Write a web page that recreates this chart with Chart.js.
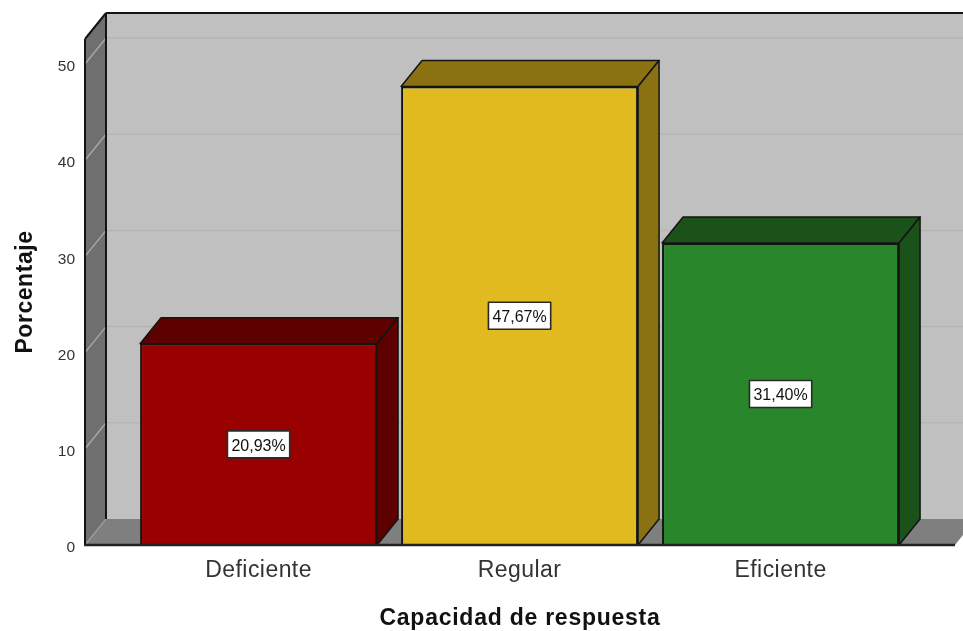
<!DOCTYPE html>
<html><head><meta charset="utf-8">
<style>html,body{margin:0;padding:0;background:#fff}#w{width:963px;height:631px;position:relative}</style>
<script src="https://cdn.jsdelivr.net/npm/chart.js@4/dist/chart.umd.min.js"></script>
</head><body><div id="w"><canvas id="c" width="963" height="631"></canvas></div>
<script>
const categories = ['Deficiente', 'Regular', 'Eficiente'];
const percentages = [20.93, 47.67, 31.40];
const frontColors = ['#990000', '#e0ba1e', '#2a862a'];
const sideColors = ['#5c0000', '#8a7212', '#1a5219'];
const yTicks = [0, 10, 20, 30, 40, 50];
const yTitle = 'Porcentaje';
const xTitle = 'Capacidad de respuesta';

const DX = 21, DY = 26;
const EDGE = '#141414';
function poly(ctx, pts, fill, stroke, lw) {
  ctx.beginPath();
  pts.forEach((p, i) => i ? ctx.lineTo(p[0], p[1]) : ctx.moveTo(p[0], p[1]));
  ctx.closePath();
  if (fill) { ctx.fillStyle = fill; ctx.fill(); }
  if (stroke) { ctx.strokeStyle = stroke; ctx.lineWidth = lw || 2; ctx.lineJoin = 'round'; ctx.stroke(); }
}
function line(ctx, a, b, color, lw) {
  ctx.beginPath(); ctx.moveTo(a[0], a[1]); ctx.lineTo(b[0], b[1]);
  ctx.strokeStyle = color; ctx.lineWidth = lw; ctx.stroke();
}
function spaced(scale, method, spacing) {
  const original = scale[method];
  scale[method] = function () {
    const ctx = this.ctx;
    ctx.letterSpacing = spacing;
    original.apply(this, arguments);
    ctx.letterSpacing = '0px';
  };
}
const walls = {
  id: 'walls',
  afterInit(chart) { chart.$spaced = false; },
  beforeDraw(chart) {
    if (chart.$spaced) return;
    chart.$spaced = true;
    spaced(chart.scales.x, 'drawTitle', '0.75px');
    spaced(chart.scales.y, 'drawTitle', '0.55px');
    spaced(chart.scales.x, 'drawLabels', '0.45px');
  },
  beforeDatasetsDraw(chart) {
    const { ctx, chartArea: a, scales: { y } } = chart;
    const L = a.left, R = a.right, T = a.top, B = a.bottom;
    ctx.save();
    poly(ctx, [[L + DX, T - DY], [R + DX, T - DY], [R + DX, B - DY], [L + DX, B - DY]], '#c0c0c0');
    poly(ctx, [[L, T], [L + DX, T - DY], [L + DX, B - DY], [L, B]], '#6f6f6f');
    poly(ctx, [[L, B], [L + DX, B - DY], [R + DX, B - DY], [R, B]], '#7f7f7f');
    yTicks.forEach(v => {
      const p = y.getPixelForValue(v);
      if (v > 0) line(ctx, [L + DX, p - DY], [R + DX, p - DY], '#b5b5b5', 1.5);
      line(ctx, [L, p], [L + DX, p - DY], v > 0 ? '#a8a8a8' : '#9a9a9a', 1.4);
    });
    line(ctx, [L + DX, T - DY], [L + DX, B - DY], EDGE, 2);
    line(ctx, [L + DX, T - DY], [R + DX, T - DY], EDGE, 2);
    line(ctx, [L, T], [L + DX, T - DY], EDGE, 2);
    line(ctx, [L, T], [L, B], EDGE, 2);
    ctx.restore();
  },
  afterDatasetsDraw(chart) {
    const { ctx, scales: { y } } = chart;
    const bars = chart.getDatasetMeta(0).data;
    ctx.save();
    bars.forEach((bar, i) => {
      const l = bar.x - bar.width / 2, r = bar.x + bar.width / 2, t = bar.y, b = bar.base;
      poly(ctx, [[l, t], [l + DX, t - DY], [r + DX, t - DY], [r, t]], sideColors[i], EDGE, 1.5);
      poly(ctx, [[r, t], [r + DX, t - DY], [r + DX, b - DY], [r, b]], sideColors[i], EDGE, 1.5);
    });
    line(ctx, [chart.chartArea.left - 1, chart.chartArea.bottom], [chart.chartArea.right, chart.chartArea.bottom], '#222222', 2.5);
    ctx.font = '16px "Liberation Sans"';
    ctx.textAlign = 'center';
    ctx.textBaseline = 'middle';
    bars.forEach((bar, i) => {
      const v = percentages[i];
      const cy = y.getPixelForValue(v / 2);
      const s = v.toFixed(2).replace('.', ',') + '%';
      const w = ctx.measureText(s).width + 8, h = 27;
      ctx.fillStyle = '#fff';
      ctx.fillRect(bar.x - w / 2, cy - h / 2, w, h);
      ctx.strokeStyle = '#2a2a2a';
      ctx.lineWidth = 1.6;
      ctx.strokeRect(bar.x - w / 2, cy - h / 2, w, h);
      ctx.fillStyle = '#111';
      ctx.fillText(s, bar.x, cy + 2);
    });
    ctx.restore();
  }
};
new Chart(document.getElementById('c'), {
  type: 'bar',
  data: {
    datasets: [{
      data: percentages.map((v, i) => ({ x: i, y: v })),
      backgroundColor: frontColors,
      borderColor: EDGE,
      borderWidth: 2,
      categoryPercentage: 1,
      barPercentage: 0.908
    }]
  },
  plugins: [walls],
  options: {
    responsive: false,
    animation: false,
    layout: { padding: { top: 39, right: 8, left: 0, bottom: 0 } },
    plugins: { legend: { display: false }, tooltip: { enabled: false }, title: { display: false } },
    scales: {
      x: {
        type: 'linear', offset: false, min: -0.665, max: 2.6683,
        afterBuildTicks(s) { s.ticks = categories.map((_, i) => ({ value: i })); },
        afterFit(s) { s.height = 86; },
        grid: { display: false, drawTicks: false },
        border: { display: false },
        ticks: {
          autoSkip: false, maxRotation: 0, padding: 12, color: '#333',
          font: { family: '"Liberation Sans"', size: 23 },
          callback: v => categories[v]
        },
        title: {
          display: true, text: xTitle, color: '#111', padding: { top: 12, bottom: -1 },
          font: { family: '"Liberation Sans"', size: 23, weight: 'bold' }
        }
      },
      y: {
        min: 0, max: 52.6,
        afterBuildTicks(s) { s.ticks = yTicks.map(v => ({ value: v })); },
        afterFit(s) { s.width = 85; },
        grid: { display: false, drawTicks: false },
        border: { display: false },
        ticks: {
          padding: 10, labelOffset: 3, color: '#333',
          font: { family: '"Liberation Sans"', size: 15.5 }
        },
        title: {
          display: true, text: yTitle, color: '#111', padding: { top: 12, bottom: 0 },
          font: { family: '"Liberation Sans"', size: 23, weight: 'bold' }
        }
      }
    }
  }
});
</script></body></html>
